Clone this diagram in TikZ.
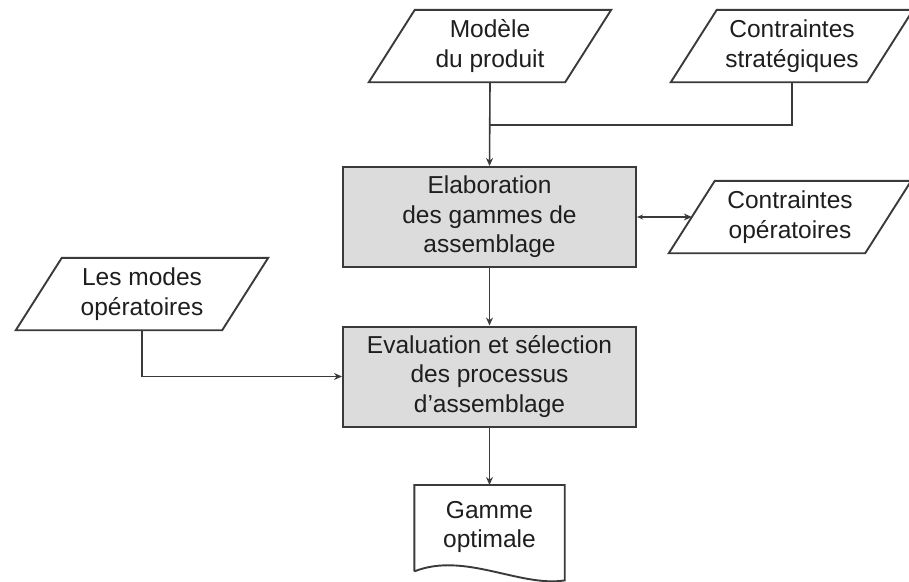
\documentclass[tikz,border=0pt]{standalone}
\usepackage{fontspec}
\setmainfont{Liberation Sans}
\usetikzlibrary{arrows.meta}
\definecolor{linec}{HTML}{3A3A3A}
\definecolor{procfill}{HTML}{DCDCDC}
\definecolor{txt}{HTML}{1E1E1E}
\begin{document}
\begin{tikzpicture}[x=1pt,y=-1pt,
  every node/.style={font=\fontsize{24.5}{29.5}\selectfont, text=txt, align=center, inner sep=0pt},
  process/.style={draw=linec, line width=2pt, fill=procfill, minimum width=293pt, minimum height=100pt},
  iotext/.style={minimum width=196pt, minimum height=72pt},
  iobox/.style={draw=linec, line width=1.9pt, line join=miter},
  docbox/.style={draw=linec, line width=1.9pt},
  flow/.style={draw=linec, line width=1.6pt, -{Stealth[length=8pt,width=7pt]}},
  link/.style={draw=linec, line width=1.6pt}
]
\useasboundingbox (0,0) rectangle (909,581);

% inputs (parallelograms drawn around the text nodes)
\node[iotext] (modele) at (490,46) {Modèle\\du produit};
\node[iotext] (strat) at (792,46) {Contraintes\\stratégiques};
\node[iotext] (oper) at (790,217) {Contraintes\\opératoires};
\node[iotext, minimum width=206pt] (modes) at (142,294) {Les modes\\opératoires};

\foreach \n in {modele,strat,oper,modes}
  \draw[iobox] ([xshift=-23pt]\n.south west) -- ([xshift=23pt]\n.north west)
    -- ([xshift=23pt]\n.north east) -- ([xshift=-23pt]\n.south east) -- cycle;

% processing steps
\node[process] (elab) at (489.5,217) {Elaboration\\des gammes de\\assemblage};
\node[process] (eval) at (489.5,376.5) {Evaluation et sélection\\des processus\\d’assemblage};

% output document
\node[minimum width=150pt, minimum height=86pt, anchor=north] (gamme) at (489.5,485) {};
\node at (489.5,527) {Gamme\\optimale};
\draw[docbox] (gamme.south west) -- (gamme.north west) -- (gamme.north east)
  -- ([yshift=-9pt]gamme.south east)
  .. controls ([xshift=-45pt,yshift=-16pt]gamme.south east) and ([xshift=50pt,yshift=20pt]gamme.south west) .. (gamme.south west);

% connectors
\coordinate (jn) at (489.5,125);
\draw[flow] (modele.south) -- (elab.north);
\draw[link] (strat.south) |- (jn);
\draw[link, {Stealth[length=6pt,width=5pt]}-{Stealth[length=8pt,width=7pt]}] (elab.east) -- (oper.west);
\draw[flow] (elab.south) -- (eval.north);
\draw[flow] (modes.south) |- (eval.west);
\draw[flow] (eval.south) -- (gamme.north);
\end{tikzpicture}
\end{document}
